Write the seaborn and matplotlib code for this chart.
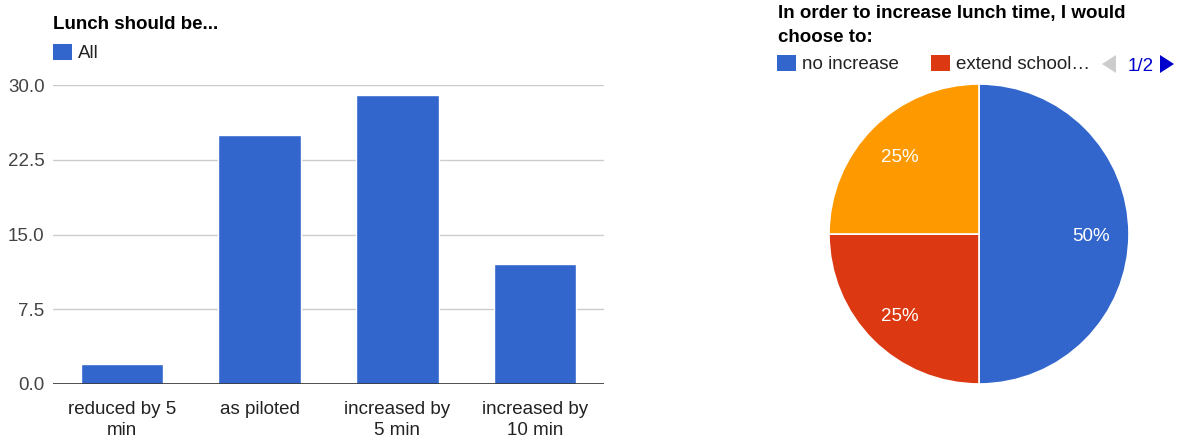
import matplotlib
matplotlib.use("Agg")
import matplotlib.pyplot as plt
from matplotlib.patches import Patch, Polygon
import seaborn as sns

# ---- data ----
bar_categories = ["reduced by 5\nmin", "as piloted", "increased by\n5 min", "increased by\n10 min"]
bar_values = [2, 25, 29, 12]
bar_ticks = [0.0, 7.5, 15.0, 22.5, 30.0]
bar_series = "All"

pie_labels = ["no increase", "extend school\u2026", "other option"]
pie_values = [50, 25, 25]
pie_legend_shown = 2
pie_page = "1/2"

BLUE = "#3366CC"
RED = "#DC3912"
ORANGE = "#FF9900"

sns.set_style("white")
plt.rcParams["font.family"] = ["Liberation Sans", "DejaVu Sans"]
FS = 13.5

W, H = 1177, 438
fig = plt.figure(figsize=(W / 100, H / 100), dpi=100)


def fx(px):
    return px / W


def fy(py):
    return 1 - py / H


# ---- bar chart ----
ax = fig.add_axes([fx(53), fy(384), fx(604) - fx(53), fy(85) - fy(384)])
sns.barplot(x=bar_categories, y=bar_values, color=BLUE, saturation=1,
            width=0.6, ax=ax)
ax.set_ylim(0, 30)
ax.set_xlim(-0.5, len(bar_categories) - 0.5)
ax.set_yticks(bar_ticks)
ax.set_yticklabels([f"{t:.1f}" for t in bar_ticks])
ax.yaxis.grid(True, color="#CCCCCC", linewidth=1)
ax.set_axisbelow(True)
for s in ax.spines.values():
    s.set_visible(False)
ax.axhline(0, color="#333333", linewidth=1.2, zorder=3)
ax.tick_params(axis="y", length=0, pad=6, labelsize=FS, labelcolor="#444444")
ax.tick_params(axis="x", length=0, pad=12, labelsize=FS, labelcolor="#222222")
for lbl in ax.get_xticklabels():
    lbl.set_linespacing(1.3)
ax.set_xlabel("")
ax.set_ylabel("")

fig.text(fx(53), fy(29), "Lunch should be...", fontsize=FS, fontweight="bold",
         color="#000000", ha="left", va="baseline")
fig.legend(handles=[Patch(facecolor=BLUE, edgecolor="none", label=bar_series)],
           loc="center left", bbox_to_anchor=(fx(53), fy(53)),
           frameon=False, fontsize=FS, handlelength=1.0, handleheight=1.0,
           handletextpad=0.35, borderpad=0, borderaxespad=0,
           labelcolor="#222222")

# ---- pie chart ----
pax = fig.add_axes([fx(829), fy(384), fx(1129) - fx(829), fy(84) - fy(384)])
wedges, texts, autotexts = pax.pie(
    pie_values, colors=[BLUE, RED, ORANGE], startangle=90, counterclock=False,
    autopct="%d%%", pctdistance=0.75, radius=1,
    wedgeprops=dict(edgecolor="white", linewidth=1.2),
    textprops=dict(color="white", fontsize=FS))
for t in autotexts:
    t.set_y(t.get_position()[1] - 0.02)
pax.set_xlim(-1, 1)
pax.set_ylim(-1, 1)
pax.set_aspect("equal")

fig.text(fx(778), fy(18), "In order to increase lunch time, I would",
         fontsize=FS, fontweight="bold", color="#000000", ha="left", va="baseline")
fig.text(fx(778), fy(42), "choose to:", fontsize=FS, fontweight="bold",
         color="#000000", ha="left", va="baseline")

fig.legend(handles=[Patch(facecolor=c, edgecolor="none", label=l)
                    for c, l in zip([BLUE, RED][:pie_legend_shown],
                                    pie_labels[:pie_legend_shown])],
           loc="center left", bbox_to_anchor=(fx(777), fy(64)), ncol=2,
           frameon=False, fontsize=FS, handlelength=1.0, handleheight=1.0,
           handletextpad=0.35, columnspacing=1.7, borderpad=0, borderaxespad=0,
           labelcolor="#222222")

# legend pagination arrows and page counter
fig.add_artist(Polygon([(1102, H - 64), (1116, H - 55), (1116, H - 73)],
                       closed=True, facecolor="#CCCCCC", edgecolor="none",
                       transform=None))
fig.add_artist(Polygon([(1174, H - 64), (1160, H - 55), (1160, H - 73)],
                       closed=True, facecolor="#0000CC", edgecolor="none",
                       transform=None))
fig.text(fx(1128), fy(71), pie_page, fontsize=FS, color="#0000CC",
         ha="left", va="baseline")

fig.savefig("out.png", dpi=100)
